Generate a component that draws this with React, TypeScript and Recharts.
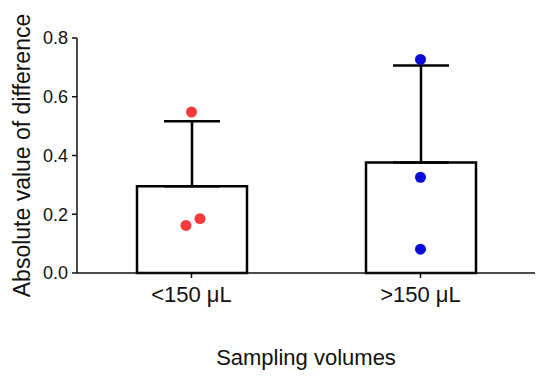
import { ComposedChart, Bar, ErrorBar, Scatter, XAxis, YAxis } from 'recharts';

const groups = ['<150 μL', '>150 μL'];
const means = [0.295, 0.376];
const sdUpper = [0.222, 0.33];
const yTicks = [0, 0.2, 0.4, 0.6, 0.8];

// individual points; x is the position along the group axis (0.5 = first group, 1.5 = second)
const lowX = [0.476, 0.537, 0.5];
const lowY = [0.162, 0.185, 0.548];
const highX = [1.5, 1.5, 1.5];
const highY = [0.727, 0.326, 0.081];

const barData = groups.map((g, i) => ({ group: g, mean: means[i], err: [0, sdUpper[i]] }));
const lowPts = lowX.map((x, i) => ({ x, y: lowY[i] }));
const highPts = highX.map((x, i) => ({ x, y: highY[i] }));

const font = 'Arial, "Liberation Sans", sans-serif';

export default function App() {
  return (
    <div style={{ position: 'absolute', left: 0, top: 0, width: 550, height: 380, background: '#fff' }}>
      <ComposedChart width={550} height={380} data={barData} margin={{ top: 38, right: 15, bottom: 57, left: 17 }}>
        <XAxis
          dataKey="group"
          height={50}
          stroke="#111"
          strokeWidth={1.5}
          tickSize={5}
          tickMargin={8}
          tick={{ fill: '#111', fontSize: 22, fontFamily: font }}
          label={{ value: 'Sampling volumes', position: 'bottom', offset: 26, fill: '#111', fontSize: 22, fontFamily: font }}
        />
        <XAxis xAxisId="pts" type="number" dataKey="x" domain={[0, 2]} hide />
        <YAxis
          width={60}
          domain={[0, 0.8]}
          ticks={yTicks}
          interval={0}
          stroke="#111"
          strokeWidth={1.5}
          tickSize={5}
          tickMargin={4}
          tickFormatter={(v: number) => v.toFixed(1)}
          tick={{ fill: '#111', fontSize: 18, fontFamily: font }}
          label={{ value: 'Absolute value of difference', angle: -90, position: 'insideLeft', offset: 5, fill: '#111', fontSize: 23, fontFamily: font, style: { textAnchor: 'middle' } }}
        />
        <Bar dataKey="mean" barSize={110} fill="#fff" stroke="#000" strokeWidth={2.5} isAnimationActive={false}>
          <ErrorBar dataKey="err" direction="y" width={28} stroke="#000" strokeWidth={2.5} />
        </Bar>
        <Scatter xAxisId="pts" data={lowPts} dataKey="y" fill="#f83a3a" isAnimationActive={false}
          shape={(p: any) => <circle cx={p.cx} cy={p.cy} r={5.5} fill="#f83a3a" />} />
        <Scatter xAxisId="pts" data={highPts} dataKey="y" fill="#0a0ad8" isAnimationActive={false}
          shape={(p: any) => <circle cx={p.cx} cy={p.cy} r={5.5} fill="#0a0ad8" />} />
      </ComposedChart>
    </div>
  );
}
